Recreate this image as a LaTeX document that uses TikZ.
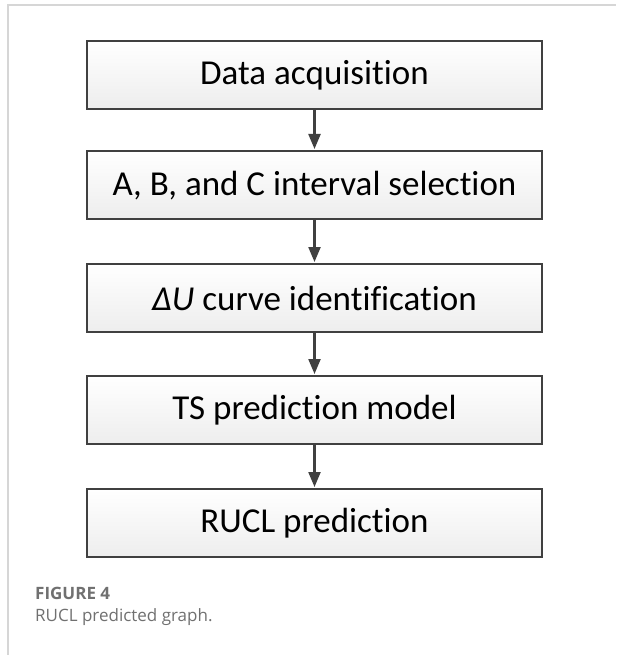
\documentclass[tikz,border=0pt]{standalone}
\usepackage{fontspec}
\setmainfont{Carlito}[Ligatures=NoCommon]
\newfontfamily\capfont{Open Sans}
\usetikzlibrary{arrows.meta}
\definecolor{edgegray}{HTML}{404040}
\definecolor{framegray}{HTML}{D6D6D6}
\definecolor{capgray}{HTML}{707070}
\tikzset{
  stepbox/.style={draw=edgegray, line width=2.4pt, top color=white, bottom color=black!7,
    minimum width=455pt, minimum height=68pt, inner sep=0pt, anchor=north,
    font=\fontsize{35}{42}\selectfont, text=black},
  flowarrow/.style={draw=edgegray, line width=2.2pt, -{Triangle[length=15pt,width=12pt]}, shorten >=1pt}
}
\begin{document}
\begin{tikzpicture}[x=1pt,y=-1pt]
\useasboundingbox (0,0) rectangle (616,655);
\draw[framegray, line width=1.4pt] (8,655) -- (8,5) -- (616,5);
\node[stepbox] (b1) at (314.5,40) {Data acquisition};
\node[stepbox] (b2) at (314.5,150) {A, B, and C interval selection};
\node[stepbox] (b3) at (314.5,263) {{\itshape ΔU} curve identification};
\node[stepbox] (b4) at (314.5,375) {TS prediction model};
\node[stepbox] (b5) at (314.5,488) {RUCL prediction};
\draw[flowarrow] (b1) -- (b2);
\draw[flowarrow] (b2) -- (b3);
\draw[flowarrow] (b3) -- (b4);
\draw[flowarrow] (b4) -- (b5);
\node[anchor=west, inner sep=0pt, text=capgray, font=\capfont\bfseries\fontsize{17}{20}\selectfont] (cap1) at (35,593) {FIGURE 4};
\node[anchor=west, inner sep=0pt, text=capgray, font=\capfont\fontsize{17}{20}\selectfont] (cap2) at (35,617) {RUCL predicted graph.};
\end{tikzpicture}
\end{document}
